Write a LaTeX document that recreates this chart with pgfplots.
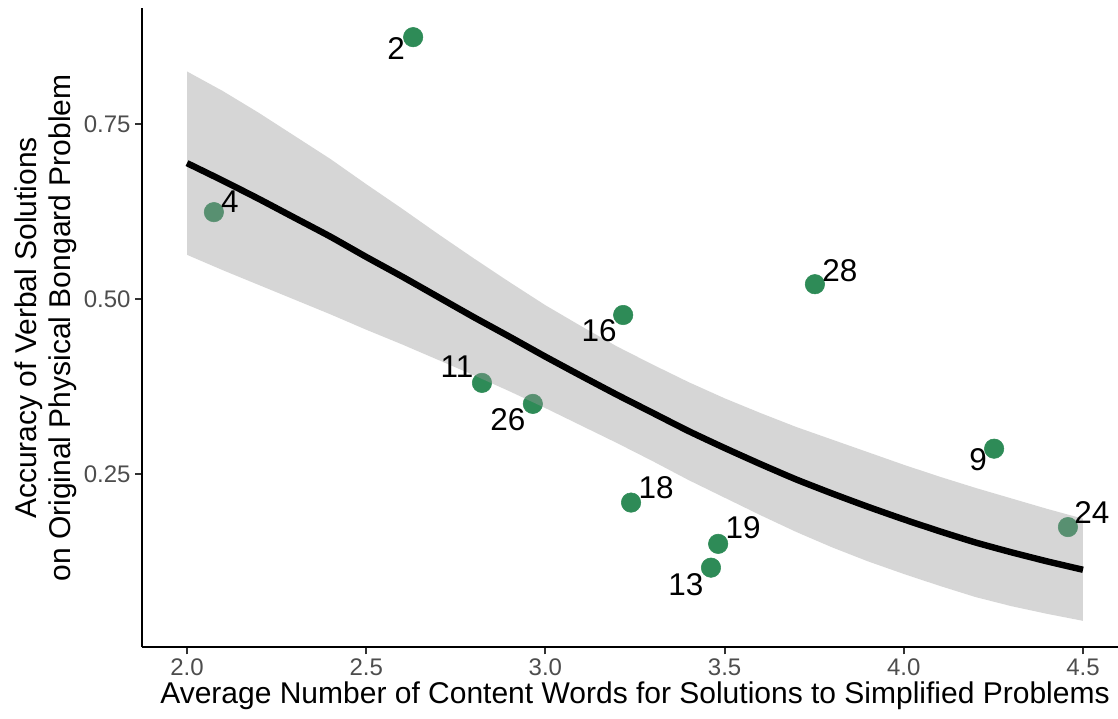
\documentclass[border=0pt]{standalone}
\usepackage{fontspec}
\setmainfont{Liberation Sans}
\usepackage{pgfplots}
\pgfplotsset{compat=1.18}
\usepackage{pgfplotstable}
\definecolor{seagreen}{HTML}{2E8B57}
\definecolor{bandgrey}{HTML}{999999}
\definecolor{tickgrey}{HTML}{4D4D4D}
\definecolor{tickmark}{HTML}{333333}

\pgfplotstableread{
x y lab dx dy
2.631 0.874 2 -12.75 -8.25
2.075 0.624 4 12 7.5
3.217 0.477 16 -18 -12
3.752 0.521 28 18.75 10.5
2.823 0.380 11 -18.75 12
2.965 0.350 26 -18.75 -12
4.252 0.286 9 -12 -8.25
3.239 0.209 18 18.75 11.25
3.482 0.150 19 18.75 12
3.462 0.116 13 -18.75 -12.75
4.458 0.174 24 18 11.25
}\pts

\pgfplotstableread{
x p
2.0 0.694
2.1 0.669
2.2 0.643
2.3 0.616
2.4 0.589
2.5 0.560
2.6 0.532
2.7 0.503
2.8 0.474
2.9 0.446
3.0 0.4175
3.1 0.390
3.2 0.363
3.3 0.337
3.4 0.311
3.5 0.287
3.6 0.264
3.7 0.242
3.8 0.222
3.9 0.203
4.0 0.185
4.1 0.168
4.2 0.152
4.3 0.138
4.4 0.125
4.5 0.113
}\fit

\pgfplotstableread{
x y
2.0 0.825
2.1 0.797
2.2 0.766
2.3 0.733
2.4 0.700
2.5 0.664
2.6 0.629
2.7 0.593
2.8 0.558
2.9 0.524
3.0 0.491
3.1 0.461
3.2 0.432
3.3 0.406
3.4 0.381
3.5 0.358
3.6 0.337
3.7 0.317
3.8 0.299
3.9 0.281
4.0 0.263
4.1 0.246
4.2 0.230
4.3 0.215
4.4 0.200
4.5 0.186
4.5 0.040
4.4 0.050
4.3 0.061
4.2 0.074
4.1 0.090
4.0 0.107
3.9 0.125
3.8 0.145
3.7 0.167
3.6 0.191
3.5 0.216
3.4 0.241
3.3 0.268
3.2 0.294
3.1 0.319
3.0 0.344
2.9 0.368
2.8 0.391
2.7 0.413
2.6 0.435
2.5 0.456
2.4 0.478
2.3 0.499
2.2 0.520
2.1 0.541
2.0 0.563
}\band

\begin{document}
\begin{tikzpicture}
\begin{axis}[
  scale only axis, width=739.2pt, height=479.25pt,
  xmin=1.875, xmax=4.625, ymin=0.002, ymax=0.915,
  axis x line*=bottom, axis y line*=left,
  axis line style={black, line width=1.5pt},
  xtick={2,2.5,3,3.5,4,4.5}, ytick={0.25,0.5,0.75},
  tick align=outside, major tick length=5.25pt,
  every tick/.style={tickmark, line width=1.5pt},
  tick label style={font=\fontsize{18}{21}\selectfont, text=tickgrey},
  xticklabel style={/pgf/number format/fixed, /pgf/number format/fixed zerofill, /pgf/number format/precision=1},
  yticklabel style={/pgf/number format/fixed, /pgf/number format/fixed zerofill, /pgf/number format/precision=2},
  /pgf/number format/assume math mode=true,
  xlabel={Average Number of Content Words for Solutions to Simplified Problems},
  ylabel={Accuracy of Verbal Solutions\\on Original Physical Bongard Problem},
  label style={font=\fontsize{22.5}{25.5}\selectfont},
  xlabel style={at={(axis description cs:0.5,-0.0883)}, anchor=base},
  ylabel style={at={(axis description cs:-0.0976,0.5)}, anchor=center, align=center},
  clip=false, clip marker paths=true,
]
\addplot[only marks, mark=*, mark size=7.3pt, color=seagreen, mark options={solid, fill=seagreen, draw=seagreen, line width=0.4pt}] table[x=x,y=y] {\pts};
\addplot[draw=none, fill=bandgrey, fill opacity=0.4] table[x=x,y=y] {\band};
\addplot[black, line width=4.8pt, smooth, tension=0.3] table[x=x,y=p] {\fit};
\addplot[draw=none, mark=none, nodes near coords, point meta=explicit symbolic,
  visualization depends on={\thisrow{dx}\as\dx},
  visualization depends on={\thisrow{dy}\as\dy},
  every node near coord/.append style={anchor=center, inner sep=0pt, xshift=\dx pt, yshift=\dy pt, font=\fontsize{23.6}{28}\selectfont, text=black}]
  table[x=x,y=y,meta=lab] {\pts};
\coordinate (bl) at (axis cs:1.4782,-0.1);
\coordinate (tr) at (axis cs:4.5977,0.9271);
\end{axis}
\pgfresetboundingbox
\path (bl) rectangle (tr);
\end{tikzpicture}
\end{document}
